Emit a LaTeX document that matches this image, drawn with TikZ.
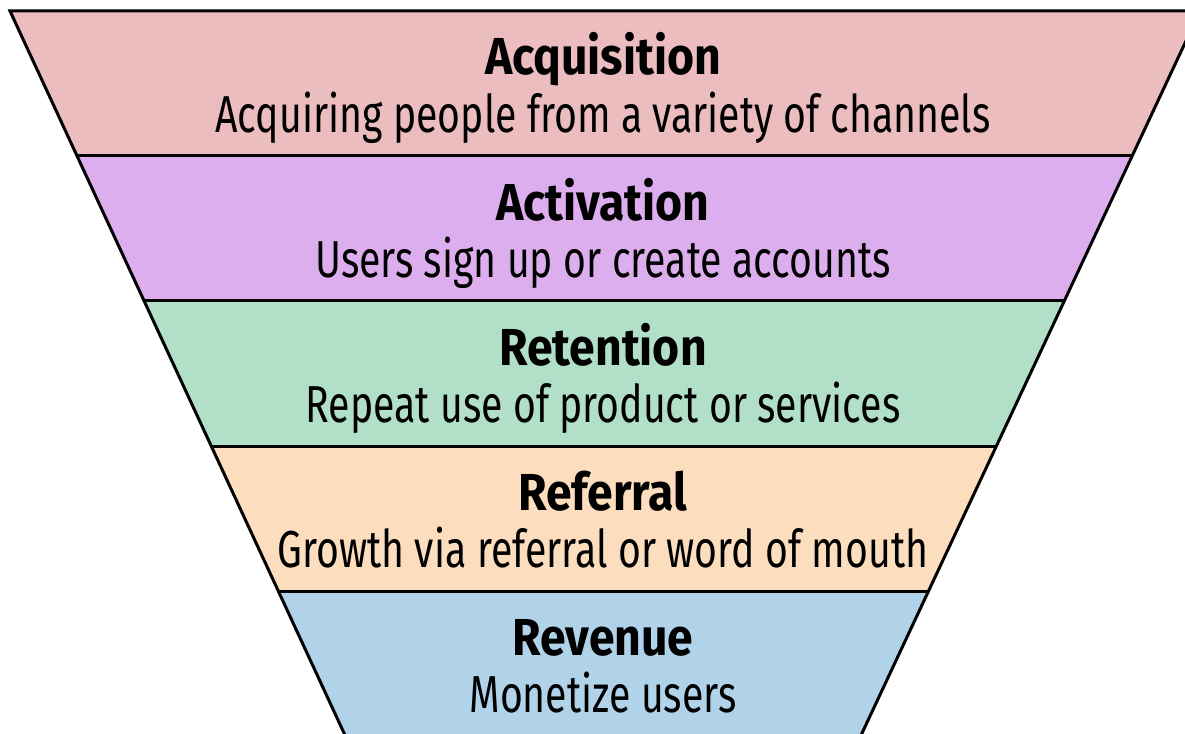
\documentclass[tikz,border=0pt]{standalone}
\usepackage{fontspec}
\setmainfont{Fira Sans}
\usepackage{graphicx}
\definecolor{cAcq}{HTML}{EBBDBF}
\definecolor{cAct}{HTML}{DDAEEE}
\definecolor{cRet}{HTML}{B1DFC7}
\definecolor{cRef}{HTML}{FCDDBD}
\definecolor{cRev}{HTML}{B0D3EA}
\newsavebox\subbox
\newsavebox\ttlbox
\newlength\subw
\newlength\ttlw
\begin{document}
\sbox\subbox{\fontsize{52}{60}\selectfont Acquiring people from a variety of channels}%
\sbox\ttlbox{\fontsize{52}{60}\selectfont\bfseries Acquisition}%
\setlength\subw{\wd\subbox}%
\setlength\ttlw{\wd\ttlbox}%
\pgfmathsetmacro\subfx{775/\subw}%
\pgfmathsetmacro\ttlfx{236/\ttlw}%
\begin{tikzpicture}[x=1pt,y=-1pt,
  ttl/.style={anchor=base, inner sep=0pt, font=\fontsize{52}{60}\selectfont\bfseries},
  sub/.style={anchor=base, inner sep=0pt, font=\fontsize{52}{60}\selectfont},
  edge/.style={line width=3pt, line join=miter, black}]
\useasboundingbox (0,0) rectangle (1185,733);
\clip (0,0) rectangle (1185,733);
% edges: left x = 10 + 0.4626*(y-11); right x = 1200 - 0.468*(y-11)
\coordinate (L0) at (10,11);      \coordinate (R0) at (1200,11);
\coordinate (L1) at (76.6,155);   \coordinate (R1) at (1132.6,155);
\coordinate (L2) at (143.7,300);  \coordinate (R2) at (1064.7,300);
\coordinate (L3) at (211.2,446);  \coordinate (R3) at (996.4,446);
\coordinate (L4) at (278.3,591);  \coordinate (R4) at (928.6,591);
\coordinate (L5) at (350,746);    \coordinate (R5) at (856,746);
\fill[cAcq] (L0) -- (R0) -- (R1) -- (L1) -- cycle;
\fill[cAct] (L1) -- (R1) -- (R2) -- (L2) -- cycle;
\fill[cRet] (L2) -- (R2) -- (R3) -- (L3) -- cycle;
\fill[cRef] (L3) -- (R3) -- (R4) -- (L4) -- cycle;
\fill[cRev] (L4) -- (R4) -- (R5) -- (L5) -- cycle;
\draw[edge] (L5) -- (L0) -- (R0) -- (R5);
\draw[edge] (L1) -- (R1);
\draw[edge] (L2) -- (R2);
\draw[edge] (L3) -- (R3);
\draw[edge] (L4) -- (R4);
\node[ttl] (t1) at (603,75) {\scalebox{\ttlfx}[1]{Acquisition}};
\node[sub] (s1) at (603,132) {\scalebox{\subfx}[1]{Acquiring people from a variety of channels}};
\node[ttl] (t2) at (603,220) {\scalebox{\ttlfx}[1]{Activation}};
\node[sub] (s2) at (603,277) {\scalebox{\subfx}[1]{Users sign up or create accounts}};
\node[ttl] (t3) at (603,365) {\scalebox{\ttlfx}[1]{Retention}};
\node[sub] (s3) at (603,422) {\scalebox{\subfx}[1]{Repeat use of product or services}};
\node[ttl] (t4) at (603,510) {\scalebox{\ttlfx}[1]{Referral}};
\node[sub] (s4) at (603,567) {\scalebox{\subfx}[1]{Growth via referral or word of mouth}};
\node[ttl] (t5) at (603,655) {\scalebox{\ttlfx}[1]{Revenue}};
\node[sub] (s5) at (603,712) {\scalebox{\subfx}[1]{Monetize users}};
\end{tikzpicture}
\end{document}
